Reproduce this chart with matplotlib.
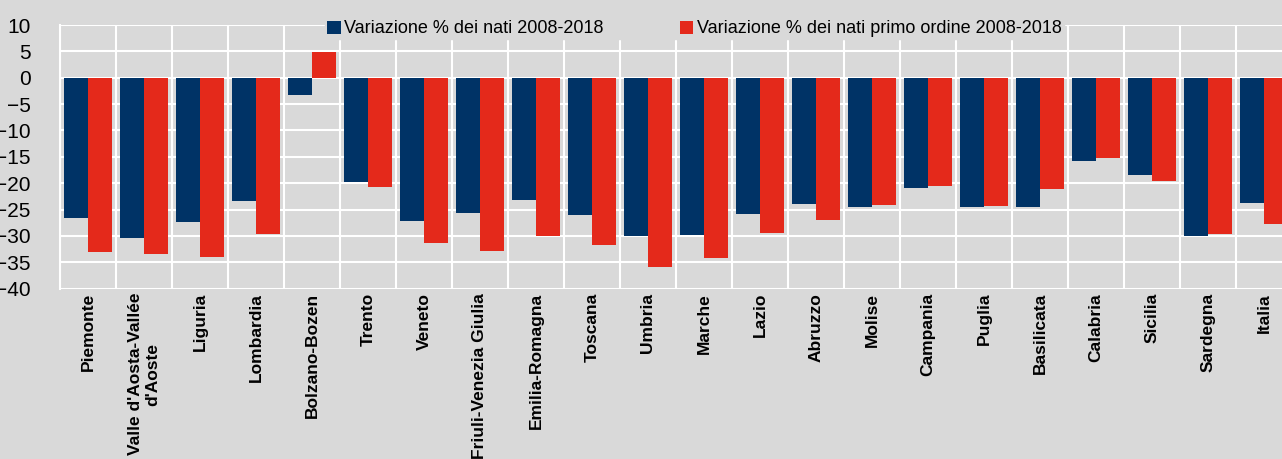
import matplotlib
matplotlib.use("Agg")
import matplotlib.pyplot as plt
import numpy as np

# regions and % change in births 2008-2018
regioni = ["Piemonte", "Valle d'Aosta-Vallée\nd'Aoste", "Liguria", "Lombardia",
           "Bolzano-Bozen", "Trento", "Veneto", "Friuli-Venezia Giulia",
           "Emilia-Romagna", "Toscana", "Umbria", "Marche", "Lazio", "Abruzzo",
           "Molise", "Campania", "Puglia", "Basilicata", "Calabria", "Sicilia",
           "Sardegna", "Italia"]
nati = [-26.6, -30.3, -27.4, -23.3, -3.3, -19.8, -27.2, -25.6, -23.1, -26.1,
        -30.1, -29.9, -25.8, -24.0, -24.5, -20.9, -24.5, -24.6, -15.7, -18.4,
        -30.0, -23.8]
nati_primo = [-33.1, -33.5, -34.0, -29.6, 4.9, -20.8, -31.4, -32.8, -30.1, -31.7,
              -35.8, -34.2, -29.5, -26.9, -24.2, -20.5, -24.4, -21.1, -15.3, -19.5,
              -29.7, -27.7]
etichette = ["Variazione % dei nati 2008-2018",
             "Variazione % dei nati primo ordine 2008-2018"]

bg = "#d9d9d9"
blu = "#003366"
rosso = "#e4291b"
sans = ["Liberation Sans", "DejaVu Sans"]

fig = plt.figure(figsize=(12.82, 4.59), dpi=100, facecolor=bg)
ax = fig.add_axes([0.0468, 0.371, 0.961, 0.5745], facecolor=bg)

x = np.arange(len(regioni))
w = 0.42
ax.bar(x, nati, width=-w, align="edge", color=blu, label=etichette[0], zorder=3)
ax.bar(x, nati_primo, width=w, align="edge", color=rosso, label=etichette[1], zorder=3)

ax.set_xlim(-0.5, len(regioni) - 0.5)
ax.set_ylim(-40, 10)
ax.set_yticks(np.arange(-40, 11, 5))
ax.set_xticks(x)
ax.set_xticks(np.arange(-0.5, len(regioni), 1), minor=True)
ax.set_xticklabels(regioni, rotation=90, fontsize=12.5, fontweight="bold",
                   family=sans, va="top", ha="center", multialignment="center")
for lab in ax.get_yticklabels():
    lab.set_family(sans)
    lab.set_fontsize(15)
ax.tick_params(axis="both", which="both", length=0)
ax.tick_params(axis="y", pad=21)
ax.tick_params(axis="x", pad=3)

ax.grid(axis="y", which="major", color="white", lw=1.5, zorder=1)
ax.grid(axis="x", which="minor", color="white", lw=1.5, zorder=1)
for s in ax.spines.values():
    s.set_visible(False)
ax.spines["left"].set_visible(True)
ax.spines["left"].set_color("white")
ax.spines["left"].set_linewidth(1.5)

leg = ax.legend(loc="center", bbox_to_anchor=(0.515, 0.985), ncol=2,
                prop={"family": sans, "size": 13}, frameon=True, facecolor=bg,
                edgecolor=bg, framealpha=1, fancybox=False, handlelength=0.75,
                handleheight=0.75, handletextpad=0.2, columnspacing=4.2,
                borderpad=0.1, borderaxespad=0)
leg.set_zorder(5)

fig.savefig("out.png", dpi=100, facecolor=bg)
